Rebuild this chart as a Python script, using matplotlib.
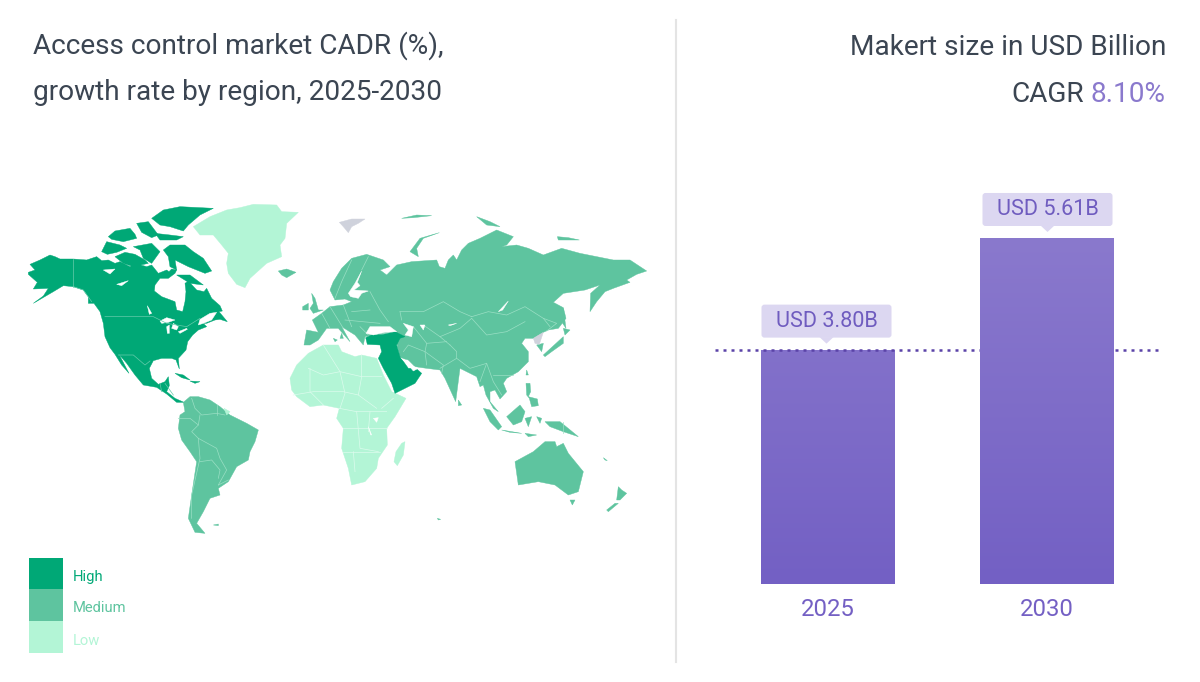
#!/usr/bin/env python3
# access control market chart - map on the left, bars on the right

import numpy as np
import matplotlib
matplotlib.use('Agg')
import matplotlib.pyplot as plt
from matplotlib.colors import LinearSegmentedColormap
from matplotlib.patches import FancyBboxPatch, Polygon, Rectangle

plt.rcParams['font.family'] = ['Roboto', 'DejaVu Sans']

###### data ######
years = ['2025', '2030']
market_size = [3.80, 5.61]
legend_labels = ['High', 'Medium', 'Low']

north_america = [(25,232),(45,225),(30,208),(60,195),(90,180),(105,185),(120,192),(160,192),(200,195),(230,185),(245,197),(265,195),(285,205),(300,200),(330,215),(345,205),(380,215),(395,210),(415,235),(440,225),(447,230),(455,222),(470,225),(465,235),(445,250),(420,250),(405,270),(403,288),(425,305),(465,320),(470,345),(488,350),(495,320),(498,290),(495,265),(505,258),(530,285),(552,290),(560,280),(575,310),(600,332),(607,348),(597,350),(622,380),(600,373),(585,375),(560,385),(550,385),(560,395),(535,405),(518,420),(503,440),(498,465),(475,490),(478,522),(468,495),(455,490),(425,490),(400,497),(388,520),(395,550),(415,568),(435,560),(445,545),(448,572),(440,590),(465,610),(492,622),(470,622),(440,597),(410,577),(370,570),(345,540),(320,505),(297,478),(327,535),(305,510),(285,478),(270,458),(255,425),(250,385),(240,350),(222,325),(205,325),(205,305),(190,285),(160,275),(130,272),(100,290),(40,325),(70,303),(85,280),(40,282),(52,262),(25,238)]
arctic_islands = [
    [(395,70),(430,45),(480,35),(580,40),(540,60),(505,90),(490,108),(450,95),(420,90)],
    [(430,165),(450,150),(495,150),(520,170),(550,190),(575,228),(555,235),(530,225),(505,215),(465,195),(470,225),(450,215),(445,185)],
    [(285,185),(315,172),(345,178),(375,195),(385,205),(340,215),(310,205)],
    [(245,170),(260,140),(300,150),(320,160),(290,172),(262,178)],
    [(265,125),(285,108),(330,100),(345,118),(350,130),(310,140),(275,133)],
    [(350,85),(385,80),(400,100),(415,120),(395,128),(365,112)],
    [(405,115),(450,120),(490,125),(470,135),(420,135)],
    [(340,155),(395,145),(420,170),(395,205),(370,190),(360,165)],
    [(470,240),(510,240),(550,270),(510,265)],
]
greenland = [(520,95),(570,65),(620,45),(660,38),(700,28),(770,30),(785,50),(835,52),(800,85),(795,130),(780,150),(785,185),(740,205),(690,250),(675,278),(650,268),(625,235),(620,205),(625,175),(605,150),(580,120),(540,120)]
iceland = [(775,228),(800,222),(828,232),(800,248),(785,240)]
caribbean = [[(465,535),(490,540),(510,555),(485,548)], [(510,558),(540,560),(525,565)]]
south_america = [(490,622),(510,605),(535,605),(570,615),(600,635),(630,660),(680,685),(715,705),(705,740),(690,770),(685,795),(650,815),(625,860),(595,880),(600,900),(570,910),(550,950),(530,985),(555,1015),(525,1012),(505,970),(515,900),(530,800),(510,770),(485,735),(475,700),(480,660),(495,650)]
french_guiana = [(612,640),(630,650),(620,660)]
falklands = [(580,990),(595,987),(595,992)]
na_lakes = [
    [(250,225),(285,222),(270,237)], [(290,268),(325,257),(305,272)], [(382,332),(395,355),(388,358)],
    [(420,378),(440,368),(465,375),(445,382),(425,385)], [(440,395),(448,390),(448,415),(442,415)],
    [(460,385),(475,395),(470,405),(455,400)], [(475,410),(500,400),(502,403),(480,415)],
    [(540,373),(570,355),(590,352),(575,375),(550,385),(535,390)],
]
na_borders = [
    [(160,192),(160,275)], [(160,275),(190,285),(215,320)], [(255,365),(400,365),(440,385),(500,395),(540,370)],
    [(295,480),(340,480),(375,510),(390,498)], [(420,565),(425,590)], [(435,565),(460,600)],
]
sa_borders = [
    [(515,610),(525,640),(545,660),(590,655),(615,660)], [(475,670),(510,670),(535,690),(515,710),(535,730)],
    [(540,660),(535,690)], [(590,630),(590,660)], [(535,730),(590,760),(600,790),(620,825),(595,870)],
    [(535,730),(540,790),(515,900),(515,970)], [(540,800),(575,795),(600,825),(595,850)], [(595,870),(625,855)],
]
africa = [(30,550),(50,510),(85,475),(130,450),(175,450),(185,470),(225,485),(245,480),(290,490),(310,540),(335,590),(378,610),(345,665),(320,700),(322,750),(295,790),(290,820),(255,860),(215,870),(205,820),(185,760),(190,700),(170,670),(178,640),(130,630),(90,635),(50,605),(35,585)]
madagascar = [(365,745),(375,740),(370,780),(352,812),(342,800),(348,770)]
africa_borders = [
    [(85,520),(130,540),(180,530),(245,545),(305,545)], [(245,480),(245,545),(235,600),(290,640)],
    [(130,450),(180,530),(195,595),(180,640)], [(40,600),(100,590),(190,590),(235,600)], [(90,520),(90,590),(130,630)],
    [(178,640),(230,650),(320,650)], [(190,700),(270,700),(320,700)], [(230,650),(240,760),(295,770)],
    [(190,770),(300,770)], [(220,770),(225,830)], [(270,650),(265,710)], [(340,610),(305,640)],
]
lake_victoria = [(280,670),(295,668),(290,682)]
lake_tanganyika = [(265,695),(275,720),(272,720)]
eurasia = [(72,450),(80,405),(115,412),(97,375),(125,355),(150,335),(190,330),(215,320),(195,312),(165,315),(150,285),(160,260),(185,220),(215,190),(260,178),(310,195),(330,215),(300,225),(320,240),(350,210),(395,200),(470,195),(478,215),(495,220),(505,195),(520,180),(530,195),(545,165),(565,145),(600,130),(650,105),(700,125),(680,150),(665,155),(710,150),(745,160),(790,180),(845,160),(900,175),(950,185),(1000,195),(1050,195),(1100,228),(1070,238),(1040,255),(1050,262),(1000,280),(975,290),(950,320),(930,350),(932,295),(960,270),(915,285),(850,295),(820,322),(850,338),(858,370),(835,400),(805,405),(790,412),(760,430),(735,430),(725,445),(745,470),(745,500),(715,530),(680,550),(670,565),(680,590),(660,612),(645,585),(630,590),(630,620),(655,650),(640,640),(618,600),(610,570),(600,575),(590,545),(560,530),(540,520),(527,620),(495,550),(480,525),(440,520),(405,515),(385,495),(360,488),(345,420),(340,410),(255,425),(250,450),(225,420),(185,395),(210,440),(175,400),(140,400),(115,435),(90,450)]
eurasia_islands = [
    [(95,295),(105,310),(115,345),(130,345),(100,355),(90,340),(100,325)], [(68,335),(85,325),(85,345),(68,345)],
    [(390,170),(420,130),(478,113),(430,130),(410,160),(415,185)], [(365,70),(410,60),(455,62),(400,68)],
    [(590,65),(630,80),(660,95),(620,90)], [(832,125),(865,128),(898,135),(835,135)],
    [(790,480),(850,425),(850,445),(815,470),(795,485)], [(850,400),(870,405),(855,420)], [(850,340),(858,400),(848,385)],
    [(770,450),(790,445),(785,470)], [(740,525),(745,540),(738,540)],
    [(738,565),(750,565),(752,590),(745,605),(772,612),(775,632),(755,635),(748,610),(740,600)], [(535,615),(545,630),(535,632)],
    [(610,640),(630,645),(665,695),(655,705),(630,680)], [(665,705),(725,715),(690,712)],
    [(680,665),(720,630),(735,650),(725,680),(700,690)], [(735,670),(755,665),(745,695)],
    [(770,665),(785,670),(780,685)], [(735,715),(770,720),(745,725)],
    [(795,680),(840,680),(895,725),(850,710),(810,695)], [(705,800),(760,770),(795,740),(825,740),(830,755),(850,745),(865,775),(910,830),(895,890),(865,900),(825,870),(775,860),(715,870)],
    [(870,915),(885,915),(877,930)], [(1015,875),(1025,885),(1040,895),(1020,915),(1010,915)], [(1005,925),(1015,925),(985,950),(980,945)],
    [(160,430),(172,435),(165,440)], [(185,415),(190,430),(180,430)],
    [(970,788),(982,797),(975,795)], [(472,970),(482,973),(475,975)],
]
no_data = [[(178,82),(215,72),(255,72),(235,85),(215,95),(205,113),(190,95)], [(760,430),(790,412),(778,448),(765,445)]]
middle_east = [(257,428),(275,420),(310,418),(345,410),(375,425),(360,430),(350,450),(360,485),(385,520),(408,520),(425,535),(405,565),(345,595),(335,565),(310,520),(295,490),(305,470),(300,450),(262,448)]
eurasia_water = [
    [(258,415),(270,395),(330,395),(350,410),(315,412),(280,420)], [(370,385),(400,395),(395,425),(375,420),(385,405)],
    [(420,390),(435,390),(430,405)], [(655,350),(685,318),(668,345)],
    [(212,305),(205,295),(225,265),(245,228),(232,262),(240,272),(222,285),(265,288),(245,295),(235,310)],
    [(362,488),(385,510),(400,528),(415,520),(395,512)], [(505,390),(530,385),(510,392)],
]
eurasia_borders = [
    [(360,350),(430,350),(490,320),(540,350),(575,365)], [(360,350),(365,375)], [(575,365),(625,350),(680,360),(735,335),(790,370),(810,395)],
    [(735,380),(680,410),(620,420),(575,370)], [(575,370),(540,400),(480,425),(510,450)], [(430,390),(480,425)], [(400,395),(440,445),(500,440)],
    [(370,470),(385,450),(435,470),(440,510)], [(440,445),(435,470),(490,510),(485,535)], [(510,450),(530,470),(530,490),(570,520),(620,505)],
    [(480,520),(530,490)], [(620,505),(640,560),(665,600)], [(600,560),(620,505)], [(640,540),(700,540)], [(790,370),(830,385),(800,408)],
    [(215,195),(185,260),(165,310)], [(265,185),(245,225)], [(270,290),(300,345),(325,380)], [(125,355),(150,400)], [(150,335),(190,400)],
    [(190,330),(215,395)], [(215,350),(270,345)], [(195,375),(300,385)], [(240,395),(265,420)], [(850,680),(850,715)],
]

#scale of the bar panel in figure pixels
bar_base_px = 584
px_per_unit = 61.68


def from_a(pts):
    return [(20 + x / 3, 195 + y / 3) for x, y in pts]


def from_b(pts):
    return [(280 + x / 3, 195 + y / 3) for x, y in pts]


fig = plt.figure(figsize=(12, 6.82), dpi=100)

#overlay in figure pixels for the map, the text and the labels
ax = fig.add_axes([0, 0, 1, 1])
ax.set_xlim(0, 1200)
ax.set_ylim(682, 0)
ax.axis('off')

HIGH = '#00a876'
MED = '#5ec49f'
LOW = '#b3f5d6'
GREY = '#cfd2dc'


def fill(pts, color, z=2):
    ax.add_patch(Polygon(pts, closed=True, facecolor=color, edgecolor=color, lw=0.3, zorder=z))


def lines(polylines, color, z=3):
    for p in polylines:
        ax.plot([q[0] for q in p], [q[1] for q in p], color=color, lw=0.5, zorder=z)


#americas
fill(from_a(north_america), HIGH)
for p in arctic_islands + caribbean:
    fill(from_a(p), HIGH)
fill(from_a(greenland), LOW)
fill(from_a(iceland), MED)
fill(from_a(south_america), MED)
fill(from_a(french_guiana), LOW, 3)
fill(from_a(falklands), MED)
for p in na_lakes:
    fill(from_a(p), 'white', 3)
lines([from_a(p) for p in na_borders], '#66cbab')
lines([from_a(p) for p in sa_borders], '#9adfc4')

#africa
fill(from_b(africa), LOW)
fill(from_b(madagascar), LOW)
lines([from_b(p) for p in africa_borders], '#dcfbed')
fill(from_b(lake_victoria), 'white', 4)
fill(from_b(lake_tanganyika), 'white', 4)

#eurasia and oceania
fill(from_b(eurasia), MED)
for p in eurasia_islands:
    fill(from_b(p), MED)
for p in no_data:
    fill(from_b(p), GREY, 3)
lines([from_b(p) for p in eurasia_borders], '#9adfc4')
fill(from_b(middle_east), HIGH, 4)
for p in eurasia_water:
    fill(from_b(p), 'white', 5)

#legend
for label, col, y0, h, ty in zip(legend_labels, [HIGH, MED, LOW], [558, 589, 621], [31, 32, 32], [577, 608, 641]):
    ax.add_patch(Rectangle((29, y0), 34, h, facecolor=col, edgecolor='none'))
    ax.text(73, ty, label, color=col, fontsize=10.6, va='center', ha='left')

#titles and divider
ax.plot([676, 676], [20, 662], color='#e4e4e4', lw=1.5)
TITLE = '#3b4552'
ax.text(33, 45.5, 'Access control market CADR (%),', color=TITLE, fontsize=20.2, va='center')
ax.text(33, 92.5, 'growth rate by region, 2025-2030', color=TITLE, fontsize=20.2, va='center')
ax.text(1166, 47.5, 'Makert size in USD Billion', color=TITLE, fontsize=20.2, va='center', ha='right')
ax.text(1166, 95, '8.10%', color='#8a79cd', fontsize=20.2, va='center', ha='right')
ax.text(1084, 95, 'CAGR', color=TITLE, fontsize=20.2, va='center', ha='right')

#bar panel, same pixel frame as the reference: x 715-1160, bars 219px apart
bx = fig.add_axes([715 / 1200, 1 - bar_base_px / 682, 445 / 1200, 394 / 682])
bx.patch.set_alpha(0)
x = np.arange(len(years))
bars = bx.bar(x, market_size, width=134 / 219, color='none', edgecolor='none', zorder=3)
grad = LinearSegmentedColormap.from_list('bar_grad', ['#7360c4', '#8a79cd'])
xlim = (-113 / 219, 1 + 113 / 219)
ylim = (0, 394 / px_per_unit)
for b in bars:
    im = bx.imshow(np.linspace(1, 0, 256).reshape(-1, 1), cmap=grad, aspect='auto', zorder=3, vmin=0, vmax=1,
                   extent=(b.get_x(), b.get_x() + b.get_width(), 0, max(market_size)))
    im.set_clip_path(b)
bx.axhline(market_size[0], color='#5b43a8', lw=1.8, dashes=(1.2, 2.0), zorder=3.5)
#second bar hides the line
hide = bx.imshow(np.linspace(1, 0, 256).reshape(-1, 1), cmap=grad, aspect='auto', zorder=4, vmin=0, vmax=1,
                 extent=(bars[1].get_x(), bars[1].get_x() + bars[1].get_width(), 0, max(market_size)))
hide.set_clip_path(bars[1])
bx.set_xlim(*xlim)
bx.set_ylim(*ylim)
bx.set_xticks(x)
bx.set_xticklabels(years, fontsize=17.2, color='#7460c4')
bx.tick_params(axis='x', length=0, pad=10)
bx.set_yticks([])
for s in bx.spines.values():
    s.set_visible(False)

#value labels with the little pointer
label_centres = [826.5, 1047.5]
for v, cx in zip(market_size, label_centres):
    top = bar_base_px - v * px_per_unit
    ax.add_patch(FancyBboxPatch((cx - 65, top - 45), 130, 33, boxstyle='round,pad=0,rounding_size=3',
                                facecolor='#dcd7f1', edgecolor='none', zorder=6))
    ax.add_patch(Polygon([(cx - 7, top - 12.5), (cx + 7, top - 12.5), (cx, top - 6)], facecolor='#dcd7f1', edgecolor='none', zorder=6))
    ax.text(cx, top - 28, 'USD {0:.2f}B'.format(v), color='#6f5cbf', fontsize=15.6, ha='center', va='center', zorder=7)

fig.savefig('out.png', dpi=100)
